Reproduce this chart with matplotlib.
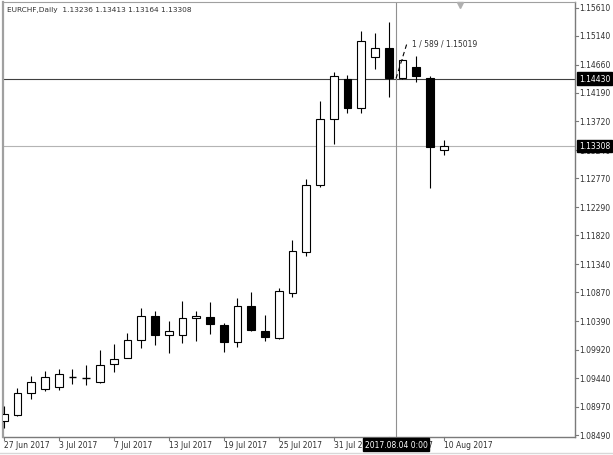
import matplotlib
matplotlib.use('Agg')
import matplotlib.pyplot as plt
from matplotlib.patches import Rectangle
from matplotlib.transforms import blended_transform_factory

# EURCHF daily bars, 27 Jun 2017 .. 10 Aug 2017
dates = ['27 Jun', '28 Jun', '29 Jun', '30 Jun', '3 Jul', '4 Jul', '5 Jul', '6 Jul', '7 Jul',
         '10 Jul', '11 Jul', '12 Jul', '13 Jul', '14 Jul', '17 Jul', '18 Jul', '19 Jul', '20 Jul',
         '21 Jul', '24 Jul', '25 Jul', '26 Jul', '27 Jul', '28 Jul', '31 Jul', '1 Aug', '2 Aug',
         '3 Aug', '4 Aug', '7 Aug', '8 Aug', '9 Aug', '10 Aug']
opens = [1.08731, 1.08831, 1.09197, 1.09264, 1.09297, 1.09460, 1.09450, 1.09380, 1.09680,
         1.09779, 1.10079, 1.10478, 1.10162, 1.10162, 1.10445, 1.10462, 1.10328, 1.10046,
         1.10645, 1.10229, 1.10112, 1.10861, 1.11543, 1.12658, 1.13756, 1.14422, 1.13939,
         1.14788, 1.14938, 1.14438, 1.14621, 1.14438, 1.13236]
highs = [1.08981, 1.09280, 1.09480, 1.09563, 1.09596, 1.09596, 1.09663, 1.09912, 1.10012,
         1.10195, 1.10611, 1.10561, 1.10395, 1.10728, 1.10561, 1.10711, 1.10362, 1.10778,
         1.10878, 1.10495, 1.10944, 1.11743, 1.12758, 1.14056, 1.14538, 1.14488, 1.15220,
         1.15187, 1.15370, 1.14750, 1.14804, 1.14472, 1.13413]
lows = [1.08615, 1.08814, 1.09097, 1.09230, 1.09247, 1.09347, 1.09330, 1.09363, 1.09546,
        1.09779, 1.09946, 1.09996, 1.09863, 1.10029, 1.10062, 1.10179, 1.09879, 1.09962,
        1.10229, 1.10062, 1.10100, 1.10794, 1.11477, 1.12625, 1.13340, 1.13856, 1.13856,
        1.14588, 1.14122, 1.14430, 1.14372, 1.12608, 1.13164]
closes = [1.08848, 1.09197, 1.09380, 1.09463, 1.09513, 1.09466, 1.09444, 1.09663, 1.09763,
          1.10079, 1.10478, 1.10162, 1.10229, 1.10445, 1.10478, 1.10345, 1.10046, 1.10645,
          1.10245, 1.10129, 1.10894, 1.11560, 1.12658, 1.13756, 1.14472, 1.13939, 1.15054,
          1.14938, 1.14438, 1.14738, 1.14472, 1.13290, 1.13308]

price_ticks = [1.15610, 1.15140, 1.14660, 1.14190, 1.13720, 1.13240, 1.12770, 1.12290,
               1.11820, 1.11340, 1.10870, 1.10390, 1.09920, 1.09440, 1.08970, 1.08490]
date_tick_idx = [0, 4, 8, 12, 16, 20, 24, 28, 32]
date_tick_labels = ['27 Jun 2017', '3 Jul 2017', '7 Jul 2017', '13 Jul 2017', '19 Jul 2017',
                    '25 Jul 2017', '31 Jul 2017', '4 Aug 2017', '10 Aug 2017']

symbol = 'EURCHF,Daily'
cross_price = 1.14430
cross_x = 28.53
cross_label = '2017.08.04 0:00'
ruler_end = (29.33, 1.15019)
ruler_text = '1 / 589 / 1.15019'
bid = closes[-1]

W, H = 613, 456
fig = plt.figure(figsize=(W / 100, H / 100), dpi=100)
fig.patch.set_facecolor('white')

# chart area in pixels: x 3..575, y 3..438
left, right, top, bottom = 3, 575, 3, 438
ax = fig.add_axes([left / W, 1 - bottom / H, (right - left) / W, (bottom - top) / H])
ax.set_facecolor('white')
ax.set_xlim((left - 3.75) / 13.75, (right - 3.75) / 13.75)
ax.set_ylim(1.08465, 1.15703)
ax.set_xticks([])
ax.set_yticks([])
for s in ax.spines.values():
    s.set_visible(False)

font = 'DejaVu Sans'
fs = 5.5
txt_col = '#303030'

# candles
bw = 0.58
for i in range(len(opens)):
    o, h, l, c = opens[i], highs[i], lows[i], closes[i]
    ax.vlines(i, l, h, color='black', lw=0.8, zorder=3)
    if abs(c - o) < 0.00012:
        ax.hlines((o + c) / 2, i - bw / 2, i + bw / 2, color='black', lw=1.0, zorder=4)
    else:
        fc = 'black' if c < o else 'white'
        ax.add_patch(Rectangle((i - bw / 2, min(o, c)), bw, abs(c - o),
                               facecolor=fc, edgecolor='black', lw=0.8, zorder=4))

# bid line and crosshair
ax.axhline(bid, color='#b4b4b4', lw=0.8, zorder=2)
ax.axhline(cross_price, color='#404040', lw=0.8, zorder=2)
ax.axvline(cross_x, color='#909090', lw=0.8, zorder=2)
ax.plot([cross_x, ruler_end[0]], [cross_price, ruler_end[1]], color='black', lw=0.8,
        ls=(0, (4, 3)), zorder=5)
ax.text(29.68, 1.15019, ruler_text, fontsize=fs, family=font, color=txt_col,
        ha='left', va='center', zorder=6)

# frame
ax.plot([1, 1], [0, 1], transform=ax.transAxes, color='#7a7a7a', lw=1.0, clip_on=False)
ax.plot([0, 1], [0, 0], transform=ax.transAxes, color='#7a7a7a', lw=1.0, clip_on=False)
ax.plot([0, 0], [0, 1], transform=ax.transAxes, color='#a0a0a0', lw=1.6, clip_on=False)
ax.plot([0, 1], [1, 1], transform=ax.transAxes, color='#a0a0a0', lw=0.8, clip_on=False)
fig.add_artist(plt.Line2D([0, 1], [1 - 453.5 / H, 1 - 453.5 / H], color='#d8d8d8', lw=1.0))

# price scale
ytr = blended_transform_factory(ax.transAxes, ax.transData)
px = 1.0 / (right - left)
for p in price_ticks:
    ax.plot([1, 1 + 3 * px], [p, p], transform=ytr, color='#7a7a7a', lw=0.8, clip_on=False)
    ax.text(1 + 4.5 * px, p, '%.5f' % p, transform=ytr, fontsize=fs, family=font,
            color=txt_col, ha='left', va='center', clip_on=False)
for p in [cross_price, bid]:
    ax.text(1 + 4 * px, p, '%.5f' % p, transform=ytr, fontsize=fs, family=font,
            color='white', ha='left', va='center', clip_on=False, zorder=10,
            bbox=dict(boxstyle='square,pad=0.25', fc='black', ec='black'))

# time scale
xtr = blended_transform_factory(ax.transData, ax.transAxes)
py = 1.0 / (bottom - top)
for i, lab in zip(date_tick_idx, date_tick_labels):
    ax.plot([i, i], [0, -3 * py], transform=xtr, color='#7a7a7a', lw=0.8, clip_on=False)
    ax.text(i, -7.5 * py, lab, transform=xtr, fontsize=fs, family=font, color=txt_col,
            ha='left', va='center', clip_on=False)
ax.text(cross_x, -7.5 * py, cross_label, transform=xtr, fontsize=fs, family=font,
        color='white', ha='center', va='center', clip_on=False, zorder=10,
        bbox=dict(boxstyle='square,pad=0.25', fc='black', ec='black'))

# header and shift marker
ax.text(4 * px, 1 - 7 * py, symbol + '  ' + ' '.join('%.5f' % v for v in
        [opens[-1], highs[-1], lows[-1], closes[-1]]),
        transform=ax.transAxes, fontsize=fs - 0.2, family=font, color=txt_col,
        ha='left', va='center')
ax.plot([(460 - left) * px], [1 - 3 * py], marker='v', ms=5, color='#b0b0b0',
        transform=ax.transAxes, clip_on=False)

fig.savefig('out.png', dpi=100)
